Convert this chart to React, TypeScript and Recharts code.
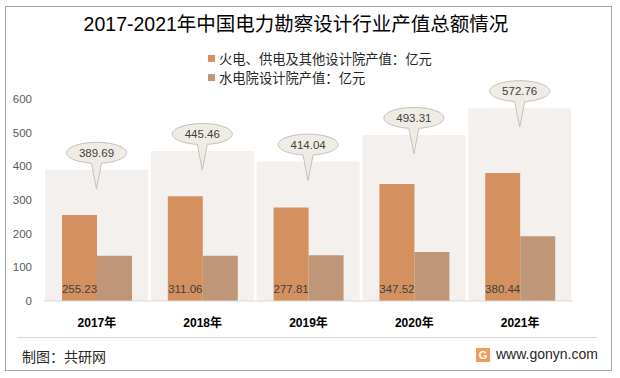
import { ComposedChart, Bar, XAxis, YAxis, LabelList } from 'recharts'

const years = ['2017年', '2018年', '2019年', '2020年', '2021年']
const totalValues = [389.69, 445.46, 414.04, 493.31, 572.76]
const thermalValues = [255.23, 311.06, 277.81, 347.52, 380.44]
const hydroValues = [134.46, 134.4, 136.23, 145.79, 192.32]
const yTicks = [0, 100, 200, 300, 400, 500, 600]

const SERIES_THERMAL = '火电、供电及其他设计院产值：亿元'
const SERIES_HYDRO = '水电院设计院产值：亿元'

const ORANGE = '#d4915f'
const BROWN = '#bf9677'
const BG = '#f4f0ee'
const FONT = "'Liberation Sans', 'Noto Sans CJK SC', sans-serif"

const data = years.map((year, i) => ({
  year,
  total: totalValues[i],
  thermal: thermalValues[i],
  hydro: hydroValues[i],
}))

// speech-bubble callout above each total bar
function Callout(props: any) {
  const { x, y, width, value } = props
  const cx = x + width / 2
  const cy = y - 17
  const rx = 30
  const ry = 10.5
  const half = 5
  const by = cy + ry * Math.sqrt(1 - (half / rx) ** 2)
  const d = `M${cx - half},${by} A${rx},${ry} 0 1 1 ${cx + half},${by} L${cx},${y + 19} Z`
  return (
    <g>
      <path d={d} fill="#efece6" stroke="#c6c2ba" strokeWidth={1} />
      <text x={cx} y={cy + 4} textAnchor="middle" fontSize={11.5} fill="#404040" fontFamily={FONT}>
        {value}
      </text>
    </g>
  )
}

export default function App() {
  return (
    <div style={{ position: 'absolute', left: 0, top: 0, width: 620, height: 378, background: '#fff', fontFamily: FONT }}>
      <div style={{ position: 'absolute', left: 5, top: 6, width: 605, height: 363, border: '1px solid #a6a6a6' }} />
      <div style={{ position: 'absolute', left: 0, top: 8, width: 592, textAlign: 'center', fontSize: 19.5, color: '#000' }}>
        2017-2021年中国电力勘察设计行业产值总额情况
      </div>
      {[
        { name: SERIES_THERMAL, color: ORANGE, top: 49 },
        { name: SERIES_HYDRO, color: BROWN, top: 68 },
      ].map(item => (
        <div key={item.name} style={{ position: 'absolute', left: 208, top: item.top, fontSize: 13.3, color: '#262626', display: 'flex', alignItems: 'center' }}>
          <span style={{ width: 7, height: 7, background: item.color, marginRight: 4, display: 'inline-block' }} />
          {item.name}
        </div>
      ))}
      <ComposedChart
        width={620}
        height={378}
        data={data}
        margin={{ top: 99, right: 0, bottom: 47, left: 0 }}
        barGap={0}
        style={{ position: 'absolute', left: 0, top: 0 }}
      >
        <XAxis
          xAxisId="main"
          dataKey="year"
          height={30}
          axisLine={{ stroke: '#d9d9d9' }}
          tickLine={false}
          tickMargin={11}
          tick={{ fontSize: 12, fontWeight: 'bold', fill: '#000', fontFamily: FONT }}
        />
        <XAxis xAxisId="bg" dataKey="year" hide height={0} />
        <YAxis
          yAxisId="left"
          width={44}
          domain={[0, 600]}
          ticks={yTicks}
          axisLine={false}
          tickLine={false}
          tickMargin={6}
          tick={{ fontSize: 11.5, fill: '#595959', fontFamily: FONT }}
        />
        <YAxis
          yAxisId="right"
          orientation="right"
          width={47}
          domain={[0, 600]}
          ticks={yTicks}
          axisLine={false}
          tickLine={false}
          tickMargin={7}
          tick={{ fontSize: 11.5, fill: '#595959', fontFamily: FONT }}
        />
        <Bar xAxisId="bg" yAxisId="left" dataKey="total" fill={BG} barSize={103} isAnimationActive={false}>
          <LabelList dataKey="total" content={<Callout />} />
        </Bar>
        <Bar xAxisId="main" yAxisId="left" dataKey="thermal" name={SERIES_THERMAL} fill={ORANGE} barSize={35} isAnimationActive={false}>
          <LabelList dataKey="thermal" position="insideBottom" offset={8} fontSize={11.5} fill="#404040" fontFamily={FONT} />
        </Bar>
        <Bar xAxisId="main" yAxisId="left" dataKey="hydro" name={SERIES_HYDRO} fill={BROWN} barSize={35} isAnimationActive={false} />
      </ComposedChart>
      <div style={{ position: 'absolute', left: 17, top: 337, width: 580, borderTop: '1px solid #d9d9d9' }} />
      <div style={{ position: 'absolute', left: 22, top: 346, fontSize: 14, color: '#262626' }}>制图：共研网</div>
      <div style={{ position: 'absolute', left: 476, top: 348, width: 14, height: 14, background: '#f39b5b', color: '#fff', fontSize: 11, fontWeight: 'bold', textAlign: 'center', lineHeight: '14px' }}>
        G
      </div>
      <div style={{ position: 'absolute', left: 496, top: 346, fontSize: 14, color: '#262626' }}>www.gonyn.com</div>
    </div>
  )
}
